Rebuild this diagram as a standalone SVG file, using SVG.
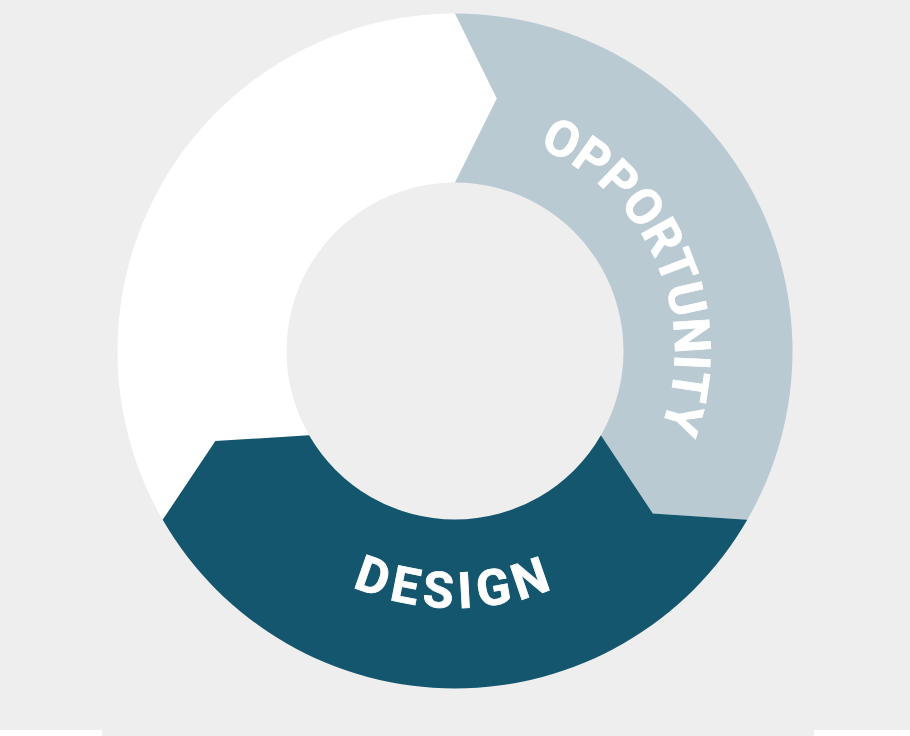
<svg xmlns="http://www.w3.org/2000/svg" width="910" height="736" viewBox="0 0 910 736">
  <defs>
    <style>
      .lbl { font-family: Roboto, "Liberation Sans", sans-serif; font-weight: 700; font-size: 50px; fill: #ffffff; stroke: #ffffff; stroke-width: 0.8px; }
    </style>
    <path id="arcOpp" d="M 367.27 149.25 A 219 219 0 0 1 542.73 552.75"/>
    <path id="arcDes" d="M 198 351 A 257 257 0 0 0 712 351"/>
  </defs>
  <rect x="0" y="0" width="910" height="736" fill="#eeeeee"/>
  <rect x="0" y="730" width="102" height="6" fill="#ffffff"/>
  <rect x="814" y="730" width="96" height="6" fill="#ffffff"/>

  <g id="segment-white">
    <path d="M 162.72 519.75 A 337.5 337.5 0 0 1 455 13.5 L 496.81 98.44 L 455 182.5 A 168.5 168.5 0 0 0 309.07 435.25 L 215.37 441.07 Z" fill="#ffffff"/>
  </g>
  <g id="segment-opportunity">
    <path d="M 455 13.5 A 337.5 337.5 0 0 1 747.28 519.75 L 652.82 513.49 L 600.93 435.25 A 168.5 168.5 0 0 0 455 182.5 L 496.81 98.44 Z" fill="#b9cad3"/>
    <text class="lbl" letter-spacing="0"><textPath href="#arcOpp" startOffset="50%" text-anchor="middle">OPPORTUNITY</textPath></text>
  </g>
  <g id="segment-design">
    <path d="M 747.28 519.75 A 337.5 337.5 0 0 1 162.72 519.75 L 215.37 441.07 L 309.07 435.25 A 168.5 168.5 0 0 0 600.93 435.25 L 652.82 513.49 Z" fill="#13566e"/>
    <text class="lbl" letter-spacing="6"><textPath href="#arcDes" startOffset="50%" text-anchor="middle">DESIGN</textPath></text>
  </g>
  <g id="connectors"/>
</svg>
